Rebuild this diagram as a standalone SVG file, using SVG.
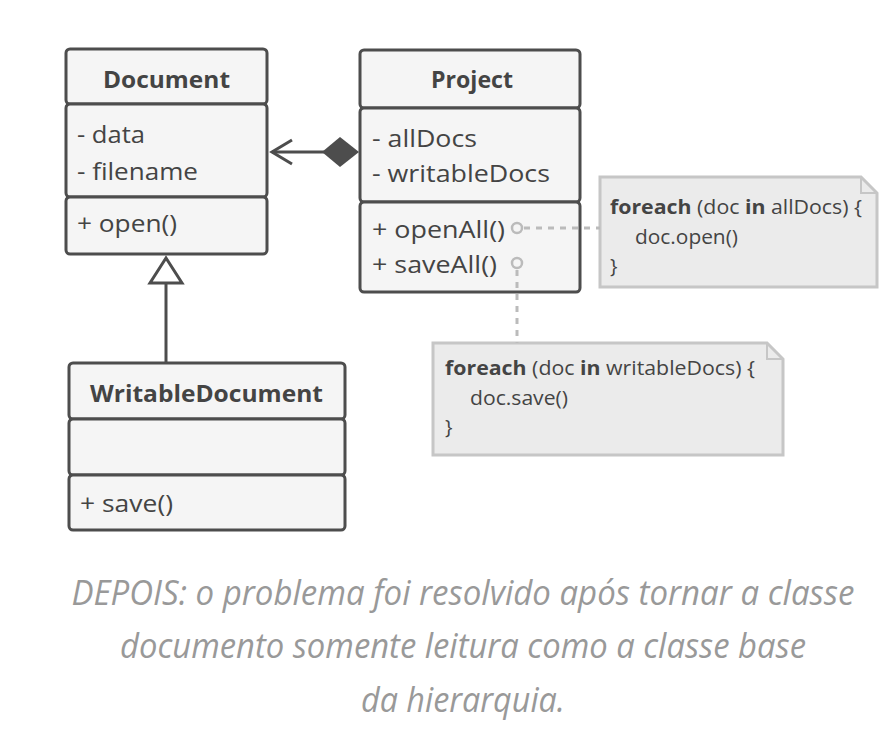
<svg xmlns="http://www.w3.org/2000/svg" width="888" height="756" viewBox="0 0 888 756">
<defs>
<style>
.box{fill:#f5f5f5;stroke:#4d4d4d;stroke-width:3}
.t{font-family:"Open Sans","Noto Sans",sans-serif;font-size:24px;fill:#444}
.h{font-family:"Open Sans","Noto Sans",sans-serif;font-size:23px;font-weight:bold;fill:#444}
.note{fill:#ebebeb;stroke:#c6c6c6;stroke-width:3}
.nt{font-family:"Open Sans","Noto Sans",sans-serif;font-size:20px;fill:#444}
.dash{stroke:#bbb;stroke-width:3;stroke-dasharray:6,6;fill:none}
.cap{font-family:"Open Sans","Noto Sans",sans-serif;font-size:34px;font-style:italic;fill:#999}
</style>
</defs>
<rect width="888" height="756" fill="#fff"/>
<g id="Document">
<rect class="box" x="66" y="49" width="201" height="55" rx="4"/>
<rect class="box" x="66" y="104" width="201" height="93" rx="4"/>
<rect class="box" x="66" y="197" width="201" height="57" rx="4"/>
<text class="h" x="166.5" y="88" text-anchor="middle" textLength="127" lengthAdjust="spacingAndGlyphs">Document</text>
<text class="t" x="77" y="143" textLength="68" lengthAdjust="spacingAndGlyphs">- data</text>
<text class="t" x="77" y="180" textLength="121" lengthAdjust="spacingAndGlyphs">- filename</text>
<text class="t" x="77" y="232" textLength="100" lengthAdjust="spacingAndGlyphs">+ open()</text>
</g>
<g id="Project">
<rect class="box" x="360" y="50" width="220" height="58" rx="4"/>
<rect class="box" x="360" y="108" width="220" height="94" rx="4"/>
<rect class="box" x="360" y="202" width="220" height="90" rx="4"/>
<text class="h" x="472" y="88" text-anchor="middle" textLength="82" lengthAdjust="spacingAndGlyphs">Project</text>
<text class="t" x="372" y="147" textLength="105" lengthAdjust="spacingAndGlyphs">- allDocs</text>
<text class="t" x="372" y="182" textLength="178" lengthAdjust="spacingAndGlyphs">- writableDocs</text>
<text class="t" x="372" y="238" textLength="133" lengthAdjust="spacingAndGlyphs">+ openAll()</text>
<text class="t" x="372" y="273" textLength="125" lengthAdjust="spacingAndGlyphs">+ saveAll()</text>
</g>
<g id="WritableDocument">
<rect class="box" x="69" y="363" width="276" height="56" rx="4"/>
<rect class="box" x="69" y="419" width="276" height="56" rx="4"/>
<rect class="box" x="69" y="475" width="276" height="55" rx="4"/>
<text class="h" x="206.5" y="402" text-anchor="middle" textLength="233" lengthAdjust="spacingAndGlyphs">WritableDocument</text>
<text class="t" x="80" y="512" textLength="93" lengthAdjust="spacingAndGlyphs">+ save()</text>
</g>
<g id="note1">
<path class="note" d="M600,177 H861 L877,193 V287 H600 Z"/>
<path d="M861,177 V193 H877" fill="none" stroke="#c6c6c6" stroke-width="2"/>
<text class="nt" x="610" y="214" textLength="252" lengthAdjust="spacingAndGlyphs"><tspan font-weight="bold">foreach</tspan> (doc <tspan font-weight="bold">in</tspan> allDocs) {</text>
<text class="nt" x="635" y="244" textLength="103" lengthAdjust="spacingAndGlyphs">doc.open()</text>
<text class="nt" x="610" y="273">}</text>
</g>
<g id="note2">
<path class="note" d="M433,343 H767 L783,359 V455 H433 Z"/>
<path d="M767,343 V359 H783" fill="none" stroke="#c6c6c6" stroke-width="2"/>
<text class="nt" x="445" y="375" textLength="310" lengthAdjust="spacingAndGlyphs"><tspan font-weight="bold">foreach</tspan> (doc <tspan font-weight="bold">in</tspan> writableDocs) {</text>
<text class="nt" x="470" y="405" textLength="98" lengthAdjust="spacingAndGlyphs">doc.save()</text>
<text class="nt" x="445" y="434">}</text>
</g>
<g id="connectors">
<line x1="166" y1="363" x2="166" y2="283" stroke="#4d4d4d" stroke-width="3"/>
<polygon points="166,258 150,283 182,283" fill="#fff" stroke="#4d4d4d" stroke-width="3"/>
<line x1="272" y1="152" x2="324" y2="152" stroke="#4d4d4d" stroke-width="3"/>
<polyline points="292,140 272,152 292,164" fill="none" stroke="#4d4d4d" stroke-width="3"/>
<polygon points="322,152 340,137 359,152 340,167" fill="#4d4d4d"/>
<line class="dash" x1="524" y1="228" x2="600" y2="228"/>
<line class="dash" x1="517" y1="270" x2="517" y2="343"/>
<circle cx="517" cy="228" r="5" fill="none" stroke="#bbb" stroke-width="2.5"/>
<circle cx="517" cy="263" r="5" fill="none" stroke="#bbb" stroke-width="2.5"/>
</g>
<g id="caption">
<text class="cap" x="463" y="605" text-anchor="middle" textLength="783" lengthAdjust="spacingAndGlyphs">DEPOIS: o problema foi resolvido após tornar a classe</text>
<text class="cap" x="463" y="658" text-anchor="middle" textLength="686" lengthAdjust="spacingAndGlyphs">documento somente leitura como a classe base</text>
<text class="cap" x="463" y="712" text-anchor="middle" textLength="204" lengthAdjust="spacingAndGlyphs">da hierarquia.</text>
</g>
</svg>
